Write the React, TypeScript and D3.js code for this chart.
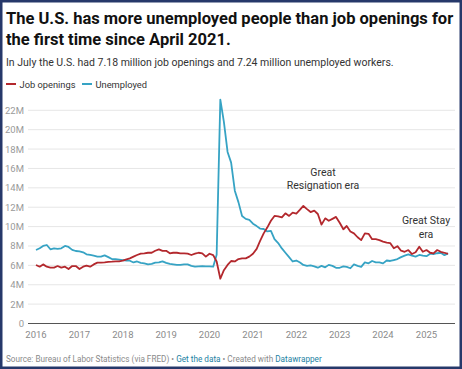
import React from 'react';
import * as d3 from 'd3';

// monthly values, Jan 2016 - Jul 2025, millions
const jobOpenings = [
  6.04, 5.86, 6.1, 5.86, 5.76, 5.76, 5.93, 5.76, 5.86, 5.62, 5.93, 5.93,
  5.62, 5.86, 5.97, 5.86, 6.1, 6.28, 6.28, 6.31, 6.35, 6.38, 6.42, 6.42,
  6.48, 6.62, 6.72, 6.9, 7.07, 7.2, 7.24, 7.3, 7.3, 7.51, 7.65, 7.5,
  7.5, 7.24, 7.3, 7.3, 7.24, 7.24, 7.2, 7.07, 7.2, 7.3, 7.24, 6.9,
  7.2, 7.05, 6.4, 4.62, 5.5, 6.04, 6.45, 6.4, 6.65, 6.72, 6.72, 6.9,
  7.2, 7.7, 8.5, 9.3, 9.9, 10.6, 11.1, 11.05, 10.95, 11.37, 11.1, 11.44,
  11.35, 11.75, 12.13, 11.8, 11.5, 11.65, 11.3, 10.2, 10.85, 10.6, 10.8, 11.0,
  10.4, 9.72, 10.06, 9.5, 9.3, 8.9, 8.6, 9.3, 9.25, 8.7, 8.7, 8.6,
  8.45, 8.35, 8.3, 7.76, 7.98, 7.51, 7.4, 7.58, 7.17, 7.35, 7.93, 7.4,
  7.58, 7.3, 7.24, 7.58, 7.4, 7.3, 7.18,
];

const unemployed = [
  7.58, 7.76, 8.0, 8.1, 7.66, 7.76, 7.7, 7.76, 8.0, 7.9, 7.6, 7.48,
  7.45, 7.35, 7.14, 7.07, 7.0, 6.9, 6.9, 7.03, 6.85, 6.65, 6.65, 6.6,
  6.55, 6.5, 6.48, 6.3, 6.4, 6.25, 6.2, 6.1, 6.15, 6.28, 6.3, 6.41,
  6.25, 6.15, 6.1, 6.05, 6.04, 6.1, 6.1, 5.95, 5.86, 5.9, 5.93, 5.9,
  5.9, 5.86, 7.1, 23.1, 20.8, 17.7, 16.6, 13.7, 12.5, 11.1, 10.8, 10.7,
  10.3, 10.05, 9.8, 9.75, 9.5, 9.55, 8.7, 8.3, 7.75, 7.3, 6.85, 6.4,
  6.5, 6.3, 6.04, 5.95, 6.0, 5.9, 5.76, 5.95, 5.8, 6.05, 5.95, 5.75,
  5.75, 5.9, 5.85, 5.7, 6.1, 5.95, 5.85, 6.3, 6.21, 6.45, 6.3, 6.3,
  6.2, 6.5, 6.45, 6.55, 6.65, 6.85, 7.0, 7.14, 7.0, 6.9, 7.07, 7.0,
  6.95, 7.2, 7.15, 7.25, 7.3, 7.05, 7.24,
];

const yTicks = [0, 2, 4, 6, 8, 10, 12, 14, 16, 18, 20, 22];
const xYears = [2016, 2017, 2018, 2019, 2020, 2021, 2022, 2023, 2024, 2025];

const RED = '#b3282d';
const BLUE = '#36a3c4';
const FONT = 'Roboto, sans-serif';

const App = () => {
  const width = 462;
  const height = 369;

  const start = new Date(2016, 0, 1);
  const dates = jobOpenings.map((_, i) => d3.timeMonth.offset(start, i));

  const x = d3.scaleTime()
    .domain([start, new Date(2025, 6, 1)])
    .range([36, 448]);

  const y = d3.scaleLinear()
    .domain([0, 22])
    .range([323.5, 110.3]);

  const line = d3.line<number>()
    .x((_, i) => x(dates[i]))
    .y(d => y(d));

  return (
    <svg width={width} height={height} style={{ position: 'absolute', left: 0, top: 0 }}
      fontFamily={FONT}>
      <rect x={0} y={0} width={width} height={height} fill="#fff" />
      <rect x={1.25} y={1.25} width={width - 2.5} height={height - 2.5}
        fill="none" stroke="#26386a" strokeWidth={2.5} />

      {/* title + subtitle */}
      <text x={6} y={24} fontSize={16.5} fontWeight={700} fill="#111">
        The U.S. has more unemployed people than job openings for
      </text>
      <text x={6} y={45} fontSize={16.5} fontWeight={700} fill="#111">
        the first time since April 2021.
      </text>
      <text x={6} y={66} fontSize={10.5} fill="#333">
        In July the U.S. had 7.18 million job openings and 7.24 million unemployed workers.
      </text>

      {/* legend */}
      <line x1={6} x2={16} y1={84} y2={84} stroke={RED} strokeWidth={2} />
      <text x={19.5} y={87.5} fontSize={9.3} fill="#333">Job openings</text>
      <line x1={82} x2={92} y1={84} y2={84} stroke={BLUE} strokeWidth={2} />
      <text x={95.5} y={87.5} fontSize={9.3} fill="#333">Unemployed</text>

      {/* grid */}
      {yTicks.map(t => (
        <g key={t}>
          {t > 0 && (
            <line x1={28} x2={455} y1={y(t)} y2={y(t)} stroke="#e6e6e6" strokeWidth={1} />
          )}
          <text x={24} y={y(t) + 3.5} fontSize={9.5} fill="#9a9a9a" textAnchor="end">
            {t === 0 ? '0' : `${t}M`}
          </text>
        </g>
      ))}
      <line x1={28} x2={455} y1={y(0)} y2={y(0)} stroke="#555" strokeWidth={1.2} />

      {xYears.map(yr => (
        <text key={yr} x={x(new Date(yr, 0, 1))} y={337.5} fontSize={9.5} fill="#8a8a8a"
          textAnchor="middle">{yr}</text>
      ))}

      {/* lines */}
      <path d={line(unemployed) ?? ''} fill="none" stroke={BLUE} strokeWidth={1.8}
        strokeLinejoin="round" />
      <path d={line(jobOpenings) ?? ''} fill="none" stroke={RED} strokeWidth={1.8}
        strokeLinejoin="round" />

      {/* annotations */}
      <text x={323} y={175.5} fontSize={10.5} fill="#333" textAnchor="middle">Great</text>
      <text x={323} y={189} fontSize={10.5} fill="#333" textAnchor="middle">Resignation era</text>
      <text x={426} y={224} fontSize={10.5} fill="#333" textAnchor="middle">Great Stay</text>
      <text x={426} y={237.5} fontSize={10.5} fill="#333" textAnchor="middle">era</text>

      {/* footer */}
      <text x={6} y={362} fontSize={8.2} fill="#8a8a8a">
        Source: Bureau of Labor Statistics (via FRED) •{' '}
        <tspan fill="#1d81a2">Get the data</tspan>
        {' '}• Created with{' '}
        <tspan fill="#1d81a2">Datawrapper</tspan>
      </text>
    </svg>
  );
};

export default App;
